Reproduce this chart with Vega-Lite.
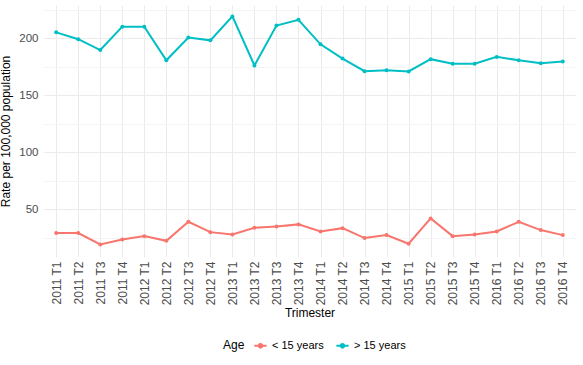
{
  "$schema": "https://vega.github.io/schema/vega-lite/v6.json",
  "autosize": {"type": "none"},
  "width": 533,
  "height": 252,
  "padding": {"left": 43, "top": 5, "right": 7, "bottom": 108},
  "background": "white",
  "config": {
    "font": "Liberation Sans",
    "view": {"stroke": null},
    "axis": {"domain": false, "ticks": false, "labelColor": "#4D4D4D", "labelFontSize": 12, "titleFontSize": 12, "titleFontWeight": "normal", "titleColor": "black", "gridColor": "#EBEBEB", "gridWidth": 1}
  },
  "data": {"values": [
    {"Trimester": "2011 T1", "Age": "< 15 years", "Rate": 29},
    {"Trimester": "2011 T2", "Age": "< 15 years", "Rate": 29},
    {"Trimester": "2011 T3", "Age": "< 15 years", "Rate": 19},
    {"Trimester": "2011 T4", "Age": "< 15 years", "Rate": 23.4},
    {"Trimester": "2012 T1", "Age": "< 15 years", "Rate": 26.3},
    {"Trimester": "2012 T2", "Age": "< 15 years", "Rate": 22.2},
    {"Trimester": "2012 T3", "Age": "< 15 years", "Rate": 38.9},
    {"Trimester": "2012 T4", "Age": "< 15 years", "Rate": 29.8},
    {"Trimester": "2013 T1", "Age": "< 15 years", "Rate": 27.8},
    {"Trimester": "2013 T2", "Age": "< 15 years", "Rate": 33.6},
    {"Trimester": "2013 T3", "Age": "< 15 years", "Rate": 34.8},
    {"Trimester": "2013 T4", "Age": "< 15 years", "Rate": 36.6},
    {"Trimester": "2014 T1", "Age": "< 15 years", "Rate": 30.4},
    {"Trimester": "2014 T2", "Age": "< 15 years", "Rate": 33.3},
    {"Trimester": "2014 T3", "Age": "< 15 years", "Rate": 24.6},
    {"Trimester": "2014 T4", "Age": "< 15 years", "Rate": 27.2},
    {"Trimester": "2015 T1", "Age": "< 15 years", "Rate": 19.6},
    {"Trimester": "2015 T2", "Age": "< 15 years", "Rate": 41.8},
    {"Trimester": "2015 T3", "Age": "< 15 years", "Rate": 26.3},
    {"Trimester": "2015 T4", "Age": "< 15 years", "Rate": 27.8},
    {"Trimester": "2016 T1", "Age": "< 15 years", "Rate": 30.4},
    {"Trimester": "2016 T2", "Age": "< 15 years", "Rate": 38.9},
    {"Trimester": "2016 T3", "Age": "< 15 years", "Rate": 31.6},
    {"Trimester": "2016 T4", "Age": "< 15 years", "Rate": 27.2},
    {"Trimester": "2011 T1", "Age": "> 15 years", "Rate": 205},
    {"Trimester": "2011 T2", "Age": "> 15 years", "Rate": 199},
    {"Trimester": "2011 T3", "Age": "> 15 years", "Rate": 189.5},
    {"Trimester": "2011 T4", "Age": "> 15 years", "Rate": 210},
    {"Trimester": "2012 T1", "Age": "> 15 years", "Rate": 210},
    {"Trimester": "2012 T2", "Age": "> 15 years", "Rate": 180.5},
    {"Trimester": "2012 T3", "Age": "> 15 years", "Rate": 200.5},
    {"Trimester": "2012 T4", "Age": "> 15 years", "Rate": 198},
    {"Trimester": "2013 T1", "Age": "> 15 years", "Rate": 219},
    {"Trimester": "2013 T2", "Age": "> 15 years", "Rate": 176},
    {"Trimester": "2013 T3", "Age": "> 15 years", "Rate": 211},
    {"Trimester": "2013 T4", "Age": "> 15 years", "Rate": 216},
    {"Trimester": "2014 T1", "Age": "> 15 years", "Rate": 194.5},
    {"Trimester": "2014 T2", "Age": "> 15 years", "Rate": 182},
    {"Trimester": "2014 T3", "Age": "> 15 years", "Rate": 171},
    {"Trimester": "2014 T4", "Age": "> 15 years", "Rate": 171.8},
    {"Trimester": "2015 T1", "Age": "> 15 years", "Rate": 170.7},
    {"Trimester": "2015 T2", "Age": "> 15 years", "Rate": 181.5},
    {"Trimester": "2015 T3", "Age": "> 15 years", "Rate": 177.5},
    {"Trimester": "2015 T4", "Age": "> 15 years", "Rate": 177.5},
    {"Trimester": "2016 T1", "Age": "> 15 years", "Rate": 183.5},
    {"Trimester": "2016 T2", "Age": "> 15 years", "Rate": 180.5},
    {"Trimester": "2016 T3", "Age": "> 15 years", "Rate": 178},
    {"Trimester": "2016 T4", "Age": "> 15 years", "Rate": 179.5}
  ]},
  "mark": {"type": "line", "strokeWidth": 2, "point": {"filled": true, "size": 16}},
  "encoding": {
    "x": {"field": "Trimester", "type": "ordinal", "title": "Trimester",
      "scale": {"type": "point", "padding": 0.6},
      "axis": {"labelAngle": -90, "labelAlign": "right", "labelBaseline": "middle", "labelPadding": 4, "grid": true, "titlePadding": 2}},
    "y": {"field": "Rate", "type": "quantitative", "title": "Rate per 100,000 population",
      "scale": {"domain": [8, 229], "nice": false, "zero": false},
      "axis": {"values": [25, 50, 75, 100, 125, 150, 175, 200, 225],
        "labelExpr": "datum.value % 50 === 0 ? datum.label : ''",
        "labelFontSize": 11.5,
        "gridColor": {"condition": {"test": "datum.value % 50 === 0", "value": "#EBEBEB"}, "value": "#F4F4F4"},
        "labelPadding": 5, "titlePadding": 6}},
    "color": {"field": "Age", "type": "nominal", "title": "Age",
      "scale": {"range": ["#F8766D", "#00BFC4"]},
      "legend": {"orient": "none", "legendX": 180, "legendY": 333, "direction": "horizontal",
        "titleOrient": "left", "titleFontSize": 12, "titleFontWeight": "normal", "titleColor": "black",
        "labelFontSize": 11, "labelColor": "black",
        "symbolType": "M-1,0H1M-0.3,0a0.3,0.3 0 1,0 0.6,0a0.3,0.3 0 1,0 -0.6,0",
        "symbolStrokeWidth": 2, "symbolSize": 150,
        "columnPadding": 8, "titlePadding": 8,
        "encode": {"symbols": {"update": {"fill": {"scale": "color", "field": "value"}}}}}}
  }
}
